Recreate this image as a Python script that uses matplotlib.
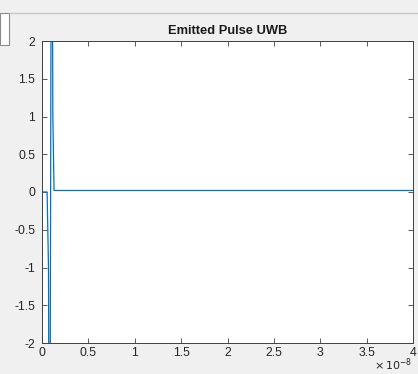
import matplotlib
matplotlib.use("Agg")
import matplotlib.pyplot as plt
from matplotlib.lines import Line2D
from matplotlib.patches import Rectangle

plt.rcParams['font.family'] = ['Liberation Sans', 'DejaVu Sans']
plt.rcParams['axes.unicode_minus'] = False

# emitted pulse samples (time in seconds, amplitude)
t = [0.0, 0.055e-8, 0.07e-8, 0.082e-8, 0.093e-8, 0.104e-8, 0.117e-8, 0.13e-8, 0.14e-8, 4.0e-8]
pulse = [0.0, 0.0, -1.0, -6.0, 0.0, 6.0, 1.0, 0.02, 0.02, 0.02]

xticks = [0, 0.5e-8, 1e-8, 1.5e-8, 2e-8, 2.5e-8, 3e-8, 3.5e-8, 4e-8]
yticks = [-2, -1.5, -1, -0.5, 0, 0.5, 1, 1.5, 2]
xscale = 1e-8

bg = '#f0f0f0'
axcol = '#404040'
txtcol = '#262626'

fig = plt.figure(figsize=(4.18, 3.74), dpi=100, facecolor=bg)
ax = fig.add_axes([42/418, 31/374, 371/418, 302/374])

ax.plot(t, pulse, color='#0072BD', linewidth=0.9)

ax.set_xlim(0, 4e-8)
ax.set_ylim(-2, 2)
ax.set_xticks(xticks)
ax.set_yticks(yticks)
ax.xaxis.set_major_formatter(plt.FuncFormatter(lambda v, p: f"{v / xscale:g}"))
ax.yaxis.set_major_formatter(plt.FuncFormatter(lambda v, p: f"{v:g}"))

ax.tick_params(direction='in', length=3.5, width=0.6, colors=axcol,
               labelcolor=txtcol, labelsize=8.8, top=True, right=True, pad=3)
ax.tick_params(axis='y', pad=5)
for s in ax.spines.values():
    s.set_color(axcol)
    s.set_linewidth(0.7)

ax.set_title('Emitted Pulse UWB', fontsize=9.3, fontweight='bold', color='#1a1a1a', pad=5)

# MATLAB style exponent label under the x axis
fig.text(412/418, 1 - 373/374, r'$\times\,10^{-8}$', ha='right', va='bottom',
         fontsize=8, color=txtcol)

# window frame bits from the screenshot
fig.add_artist(Line2D([10/418, 1], [1 - 13/374, 1 - 13/374], color='#c8c8c8', linewidth=1))
fig.add_artist(Rectangle((0, 1 - 45/374), 9/418, 32/374, facecolor='white',
                         edgecolor='#8a8a8a', linewidth=0.8))

fig.savefig('out.png', dpi=100, facecolor=bg)
